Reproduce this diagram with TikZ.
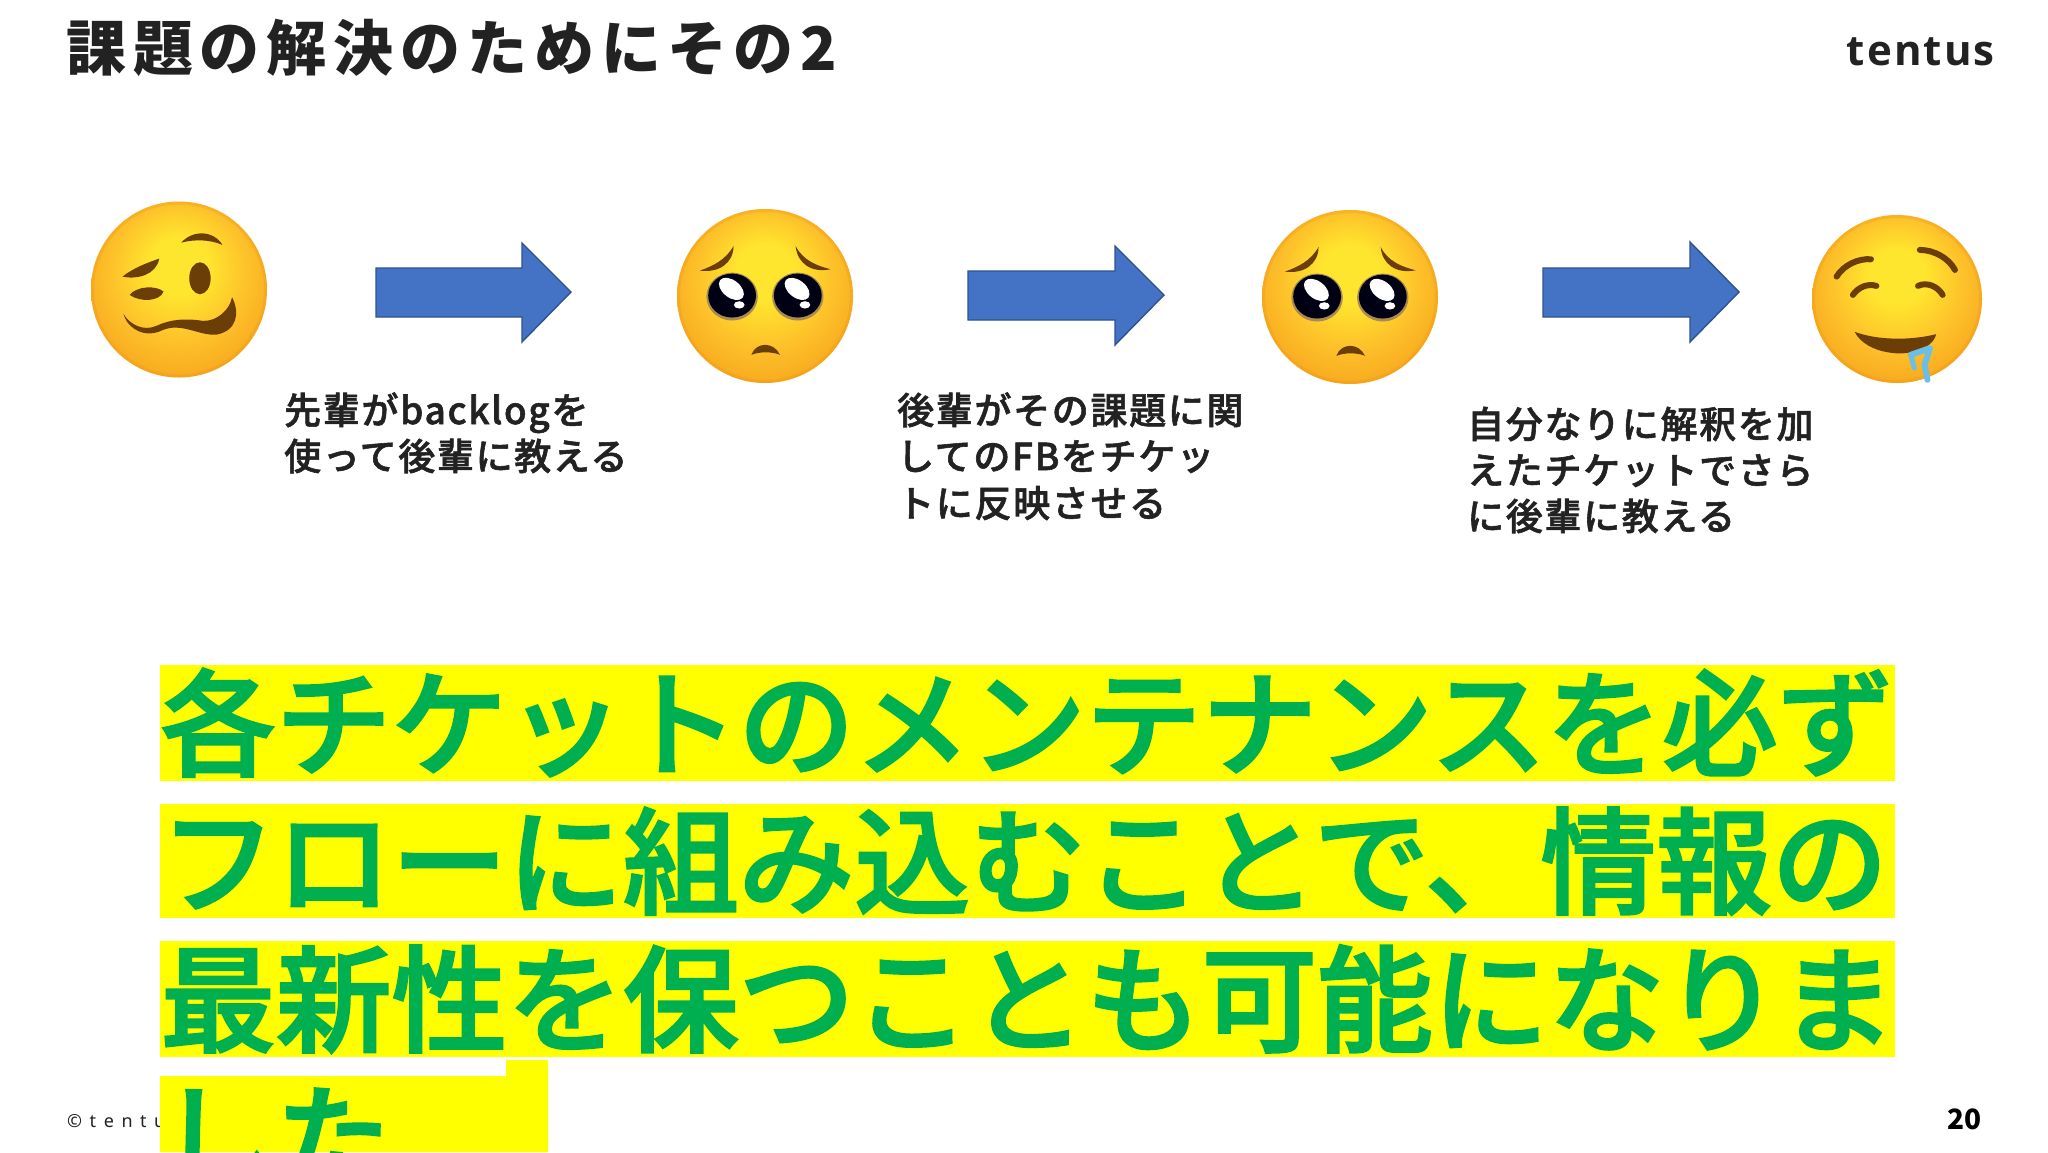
\documentclass[tikz,border=0pt]{standalone}
\usepackage{fontspec}
\setmainfont{Noto Sans CJK JP}
\newfontfamily\titlefont[LetterSpace=11.5]{Noto Sans CJK JP}
\newfontfamily\labelfont[LetterSpace=4.5,FakeBold=1.5]{Noto Sans CJK JP Medium}
\newfontfamily\bigfont[FakeBold=2]{Noto Sans CJK JP Medium}
\newfontfamily\footfont[LetterSpace=42]{Noto Sans}
\newfontfamily\logofont[LetterSpace=5]{Open Sans}
\definecolor{arrowblue}{HTML}{4472C4}
\definecolor{arrowedge}{HTML}{2F528F}
\definecolor{bigtext}{HTML}{00B050}
\definecolor{markyellow}{HTML}{FFFF00}
\definecolor{inktext}{HTML}{222222}
\definecolor{browneye}{HTML}{6B3E08}
\definecolor{facein}{HTML}{FFE62E}
\definecolor{facemid}{HTML}{FDC02A}
\definecolor{faceout}{HTML}{F8AC20}
\definecolor{faceedge}{HTML}{EE9414}
\definecolor{droolblue}{HTML}{6CBFE4}
\pgfdeclareradialshading{facefill}{\pgfpoint{0bp}{8bp}}{
  color(0bp)=(facein); color(8bp)=(facein); color(20bp)=(facemid); color(28bp)=(faceout); color(33bp)=(faceedge); color(50bp)=(faceedge)}
\tikzset{
  px/.style={x=1pt,y=-1pt},
  titletext/.style={anchor=base west,inner sep=0pt,font=\titlefont\bfseries\fontsize{60pt}{60pt}\selectfont,text=inktext},
  notetext/.style={anchor=base west,inner sep=0pt,font=\labelfont\fontsize{37pt}{37pt}\selectfont,text=inktext},
  bigline/.style={anchor=base west,inner sep=0pt,font=\bigfont\fontsize{115.7pt}{115.7pt}\selectfont,text=bigtext},
  blockarrow/.style={fill=arrowblue,draw=arrowedge,line width=1.4pt,line join=miter},
  yellowbar/.style={fill=markyellow,draw=none},
  brow/.style={draw=browneye,line width=6pt,line cap=round},
}
\newcommand{\faceball}[4]{%
  \shade[shading=facefill] (#1,#2) ellipse [x radius=#3,y radius=#4];
  \draw[faceedge,line width=3pt,opacity=.3] (#1,#2) ellipse [x radius=#3-1.5,y radius=#4-1.5];}
\newcommand{\pleadeye}[3]{%
  \fill[black!55!white!60!faceout] (#1,#2+3) ellipse [x radius=72,y radius=72];
  \fill[black!92!blue] (#1,#2) ellipse [x radius=67,y radius=66];
  \fill[white,rotate around={-38:(#1+#3,#2-20)}] (#1+#3,#2-20) ellipse [x radius=40,y radius=26];
  \fill[white] (#1+20,#2+28) ellipse [x radius=15,y radius=11];}
\newcommand{\pleadface}[2]{%
  \begin{scope}[shift={(#1,#2)},x=.357pt,y=-.333pt]
    \fill[browneye] (168,272) .. controls (205,258) and (240,240) .. (262,198) .. controls (262,250) and (220,280) .. cycle;
    \fill[browneye] (534,268) .. controls (495,258) and (455,240) .. (436,198) .. controls (440,250) and (480,280) .. cycle;
    \pleadeye{258}{347}{-2}
    \pleadeye{442}{347}{-2}
    \fill[browneye] (312,525) .. controls (325,485) and (375,485) .. (392,525) .. controls (370,515) and (335,515) .. cycle;
  \end{scope}}
\begin{document}
\begin{tikzpicture}[px]
\useasboundingbox (0,0) rectangle (2048,1152);
\fill[white] (0,0) rectangle (2048,1152);
% title and logo
\node[titletext] (title) at (66,70) {課題の解決のためにその2};
\node[anchor=base east,inner sep=0pt,font=\logofont\bfseries\fontsize{42pt}{42pt}\selectfont,text=inktext] (logo) at (1995,65) {tentus};
% footer
\node[anchor=base west,inner sep=0pt,font=\footfont\fontsize{18pt}{18pt}\selectfont,text=inktext] (foot) at (67,1127) {©tentu};
\node[anchor=base east,inner sep=0pt,font=\bfseries\fontsize{28pt}{28pt}\selectfont,text=black] (pageno) at (1982,1129) {20};
% emoji 1: woozy
\faceball{179}{289.5}{88}{88}
\begin{scope}[shift={(60,180)},x=.357pt,y=-.333pt]
  \fill[browneye] (340,188) .. controls (370,150) and (430,150) .. (455,195) .. controls (420,178) and (375,178) .. cycle;
  \fill[browneye] (278,236) .. controls (240,250) and (205,265) .. (175,290) .. controls (215,300) and (270,285) .. cycle;
  \fill[browneye] (195,345) .. controls (215,318) and (270,316) .. (290,335) .. controls (280,365) and (225,368) .. cycle;
  \fill[browneye] (392,295) ellipse [x radius=30,y radius=48];
  \fill[browneye] (178,402) .. controls (190,450) and (240,475) .. (285,452) .. controls (340,425) and (390,470) .. (440,464) .. controls (495,452) and (505,400) .. (482,352) .. controls (475,390) and (440,425) .. (400,423) .. controls (350,415) and (310,418) .. (270,438) .. controls (235,455) and (195,435) .. cycle;
\end{scope}
% emoji 2 and 3: pleading
\faceball{765}{296}{88}{87}
\pleadface{640}{180}
\faceball{1350}{297}{88}{87}
\pleadface{1225}{181}
% emoji 4: drooling
\faceball{1897}{299}{85}{84}
\begin{scope}[shift={(1480,180)},x=.362pt,y=-.333pt]
  \draw[brow] (985,290) .. controls (1005,255) and (1045,235) .. (1080,238);
  \draw[brow] (1030,345) .. controls (1045,322) and (1070,310) .. (1095,318);
  \draw[brow] (1215,210) .. controls (1255,210) and (1295,235) .. (1312,270);
  \draw[brow] (1210,318) .. controls (1235,305) and (1265,320) .. (1278,345);
  \fill[browneye] (1035,456) .. controls (1100,482) and (1190,482) .. (1260,463) .. controls (1250,510) and (1180,528) .. (1130,518) .. controls (1090,512) and (1050,490) .. cycle;
  \draw[droolblue,line width=6pt,line join=round,line cap=round] (1190,525) -- (1243,505) -- (1228,555) -- (1236,600);
  \draw[droolblue,line width=5pt,line cap=round] (1190,525) -- (1200,565);
\end{scope}
% arrows
\draw[blockarrow] (376,268) coordinate (a1) -- (522,268) -- (522,243) -- (571,292) -- (522,342) -- (522,317) -- (376,317) -- cycle;
\draw[blockarrow] (968,271) coordinate (a2) -- (1115,271) -- (1115,246) -- (1164,295) -- (1115,345) -- (1115,320) -- (968,320) -- cycle;
\draw[blockarrow] (1543,268) coordinate (a3) -- (1690,268) -- (1690,242) -- (1739,292) -- (1690,342) -- (1690,317) -- (1543,317) -- cycle;
% notes
\node[notetext] (n1a) at (284,424) {先輩がbacklogを};
\node[notetext] (n1b) at (284,470) {使って後輩に教える};
\node[notetext] (n2a) at (897,424) {後輩がその課題に関};
\node[notetext] (n2b) at (897,470) {してのFBをチケッ};
\node[notetext] (n2c) at (897,517) {トに反映させる};
\node[notetext] (n3a) at (1467,438) {自分なりに解釈を加};
\node[notetext] (n3b) at (1467,484) {えたチケットでさら};
\node[notetext] (n3c) at (1467,530) {に後輩に教える};
% highlighted text
\fill[yellowbar] (160,665) rectangle (1895,781);
\fill[yellowbar] (160,804) rectangle (1895,918);
\fill[yellowbar] (160,941) rectangle (1895,1057);
\fill[yellowbar] (160,1076) -- (506,1076) -- (506,1060) -- (548,1060) -- (548,1152) -- (160,1152) -- cycle;
\node[bigline] (b1) at (160,767) {各チケットのメンテナンスを必ず};
\node[bigline] (b2) at (160,905) {フローに組み込むことで、情報の};
\node[bigline] (b3) at (160,1043) {最新性を保つことも可能になりま};
\node[bigline] (b4) at (160,1181) {した};
\end{tikzpicture}
\end{document}
